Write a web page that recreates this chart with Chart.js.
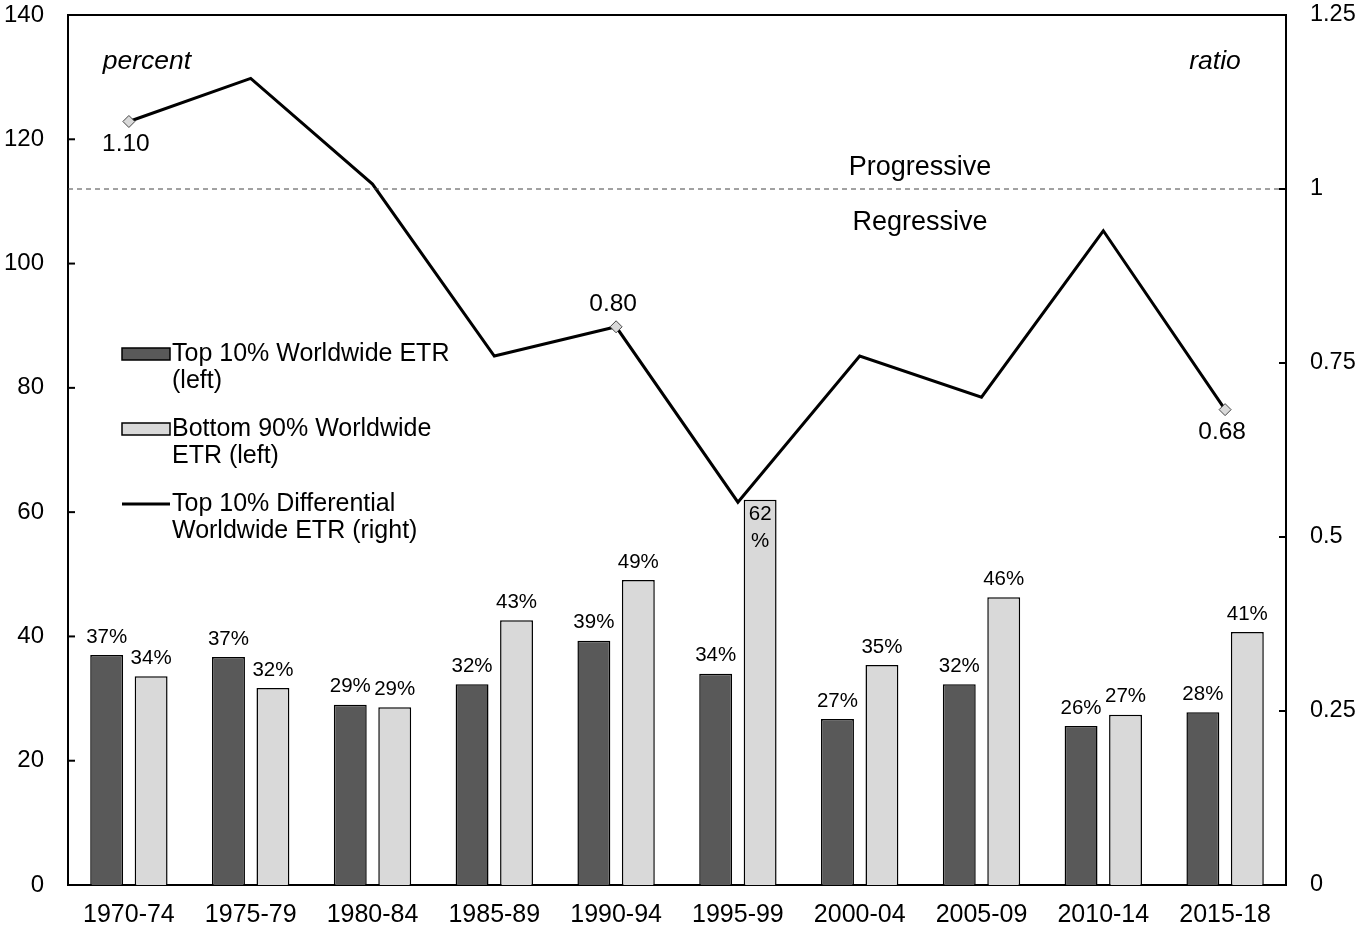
<!DOCTYPE html>
<html>
<head>
<meta charset="utf-8">
<script src="https://cdn.jsdelivr.net/npm/chart.js@4.4.1/dist/chart.umd.min.js"></script>
<style>
html,body{margin:0;padding:0;background:#fff;}
#wrap{width:1360px;height:930px;position:relative;}
</style>
</head>
<body>
<div id="wrap"><canvas id="c" width="1360" height="930"></canvas></div>
<script>
const categories = ['1970-74','1975-79','1980-84','1985-89','1990-94','1995-99','2000-04','2005-09','2010-14','2015-18'];
const top10ETR = [37.0, 36.7, 29.0, 32.3, 39.3, 34.0, 26.7, 32.3, 25.6, 27.8];
const bottom90ETR = [33.6, 31.7, 28.6, 42.6, 49.1, 62.0, 35.4, 46.3, 27.4, 40.7];
const differentialRatio = [1.097, 1.159, 1.007, 0.760, 0.802, 0.550, 0.760, 0.701, 0.940, 0.683];
const leftTicks = [0, 20, 40, 60, 80, 100, 120, 140];
const rightTicks = [0, 0.25, 0.5, 0.75, 1, 1.25];
const labelledRatioIdx = [0, 4, 9];
const ratioLabelSide = {0: 'below', 4: 'above', 9: 'below'};
const thresholdRatio = 1;

const FONT = '"Liberation Sans", Arial, sans-serif';
const DARK = '#595959', LIGHT = '#d9d9d9';

function zeroPad(s) { s.paddingTop = 0; s.paddingBottom = 0; s.paddingLeft = 0; s.paddingRight = 0; }

const overlay = {
  id: 'overlay',
  afterDatasetsDraw(chart) {
    const ctx = chart.ctx;
    const a = chart.chartArea;
    const y = chart.scales.y, y1 = chart.scales.y1;
    ctx.save();
    // dashed threshold line
    const ty = y1.getPixelForValue(thresholdRatio);
    ctx.strokeStyle = '#444'; ctx.lineWidth = 1; ctx.setLineDash([5, 4]);
    ctx.beginPath(); ctx.moveTo(a.left, ty); ctx.lineTo(a.right, ty); ctx.stroke();
    ctx.setLineDash([]);
    // frame top
    ctx.strokeStyle = '#000'; ctx.lineWidth = 2;
    ctx.beginPath(); ctx.moveTo(a.left - 1, a.top); ctx.lineTo(a.right + 1, a.top); ctx.stroke();
    // inward ticks
    leftTicks.forEach(v => { const p = y.getPixelForValue(v); ctx.beginPath(); ctx.moveTo(a.left, p); ctx.lineTo(a.left + 7, p); ctx.stroke(); });
    rightTicks.forEach(v => { const p = y1.getPixelForValue(v); ctx.beginPath(); ctx.moveTo(a.right, p); ctx.lineTo(a.right - 7, p); ctx.stroke(); });

    ctx.fillStyle = '#000';
    ctx.textAlign = 'center'; ctx.textBaseline = 'middle';
    ctx.font = '27px ' + FONT;
    ctx.fillText('Progressive', 920, ty - 21);
    ctx.fillText('Regressive', 920, ty + 34);
    ctx.font = 'italic 26.5px ' + FONT;
    ctx.fillText('percent', a.left + 79, 62);
    ctx.fillText('ratio', a.right - 71, 62);

    // bar labels
    ctx.font = '20.5px ' + FONT;
    [0, 1].forEach(di => {
      const meta = chart.getDatasetMeta(di);
      const vals = chart.data.datasets[di].data;
      meta.data.forEach((bar, i) => {
        if (vals[i] > 55) {
          ctx.fillText(String(Math.round(vals[i])), bar.x, bar.y + 15);
          ctx.fillText('%', bar.x, bar.y + 42);
        } else {
          ctx.fillText(Math.round(vals[i]) + '%', bar.x, bar.y - 18);
        }
      });
    });
    // ratio labels
    ctx.font = '24.5px ' + FONT;
    const lm = chart.getDatasetMeta(2);
    labelledRatioIdx.forEach(i => {
      const pt = lm.data[i];
      const t = differentialRatio[i].toFixed(2);
      const dy = ratioLabelSide[i] === 'below' ? 23 : -23;
      ctx.fillText(t, pt.x - 3, pt.y + dy);
    });

    // legend
    const lx = 122, lw = 48;
    ctx.textAlign = 'left';
    ctx.font = '25px ' + FONT;
    const entries = [
      {type: 'bar', color: DARK, lines: ['Top 10% Worldwide ETR', '(left)'], y: 354},
      {type: 'bar', color: LIGHT, lines: ['Bottom 90% Worldwide', 'ETR (left)'], y: 429},
      {type: 'line', lines: ['Top 10% Differential', 'Worldwide ETR (right)'], y: 504}
    ];
    entries.forEach(e => {
      if (e.type === 'bar') {
        ctx.fillStyle = e.color; ctx.fillRect(lx, e.y - 6, lw, 12);
        ctx.strokeStyle = '#000'; ctx.lineWidth = 1.5; ctx.strokeRect(lx, e.y - 6, lw, 12);
      } else {
        ctx.strokeStyle = '#000'; ctx.lineWidth = 3;
        ctx.beginPath(); ctx.moveTo(lx, e.y); ctx.lineTo(lx + lw, e.y); ctx.stroke();
      }
      ctx.fillStyle = '#000';
      e.lines.forEach((l, k) => ctx.fillText(l, lx + lw + 2, e.y + k * 27));
    });
    ctx.restore();
  }
};

new Chart(document.getElementById('c'), {
  data: {
    labels: categories,
    datasets: [
      {type: 'bar', label: 'Top 10% Worldwide ETR (left)', data: top10ETR, backgroundColor: DARK, borderColor: '#000', borderWidth: 1.5, yAxisID: 'y', order: 2, categoryPercentage: 0.73, barPercentage: 0.74},
      {type: 'bar', label: 'Bottom 90% Worldwide ETR (left)', data: bottom90ETR, backgroundColor: LIGHT, borderColor: '#000', borderWidth: 1.5, yAxisID: 'y', order: 2, categoryPercentage: 0.73, barPercentage: 0.74},
      {type: 'line', label: 'Top 10% Differential Worldwide ETR (right)', data: differentialRatio, borderColor: '#000', borderWidth: 3, tension: 0, yAxisID: 'y1', order: 0,
        pointStyle: 'rectRot', pointBackgroundColor: '#d9d9d9', pointBorderColor: '#444', pointBorderWidth: 1,
        pointRadius: categories.map((c, i) => labelledRatioIdx.includes(i) ? 6 : 0)}
    ]
  },
  options: {
    responsive: false,
    animation: false,
    devicePixelRatio: 1,
    layout: {padding: {top: 15, left: 0, right: 0, bottom: 0}},
    plugins: {legend: {display: false}, tooltip: {enabled: false}},
    scales: {
      x: {
        grid: {display: false, drawTicks: false},
        border: {color: '#000', width: 2},
        ticks: {color: '#000', font: {family: FONT, size: 25}, padding: 15, maxRotation: 0},
        afterFit(s) { s.height = 45; zeroPad(s); }
      },
      y: {
        position: 'left', min: 0, max: 140,
        afterBuildTicks(s) { s.ticks = leftTicks.map(v => ({value: v})); },
        grid: {display: false, drawTicks: false},
        border: {color: '#000', width: 2},
        ticks: {color: '#000', font: {family: FONT, size: 24}, padding: 24},
        afterFit(s) { s.width = 68; zeroPad(s); }
      },
      y1: {
        position: 'right', min: 0, max: 1.25,
        afterBuildTicks(s) { s.ticks = rightTicks.map(v => ({value: v})); },
        grid: {display: false, drawTicks: false},
        border: {color: '#000', width: 2},
        ticks: {color: '#000', font: {family: FONT, size: 23.5}, padding: 24, callback: v => String(v)},
        afterFit(s) { s.width = 74; zeroPad(s); }
      }
    }
  },
  plugins: [overlay]
});
</script>
</body>
</html>
